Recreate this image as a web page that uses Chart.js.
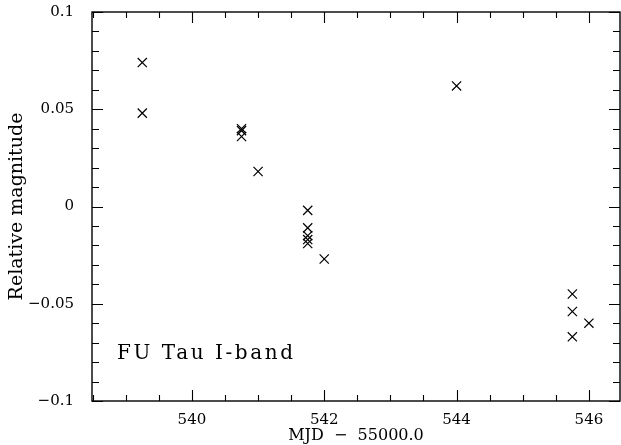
<!DOCTYPE html>
<html><head><meta charset="utf-8">
<script src="https://cdn.jsdelivr.net/npm/chart.js@4"></script>
<style>html,body{margin:0;padding:0;background:#fff;} #wrap{width:621px;height:445px;}</style>
</head><body><div id="wrap"><canvas id="c" width="621" height="445"></canvas></div>
<script>
// ---- data ----
const mjd    = [539.25, 539.25, 540.75, 540.75, 540.75, 541.0, 541.75, 541.75, 541.75, 541.75, 541.75, 542.0, 544.0, 545.75, 545.75, 545.75, 546.0];
const relMag = [0.074, 0.048, 0.040, 0.039, 0.036, 0.018, -0.002, -0.011, -0.015, -0.017, -0.019, -0.027, 0.062, -0.045, -0.054, -0.067, -0.060];
const xTickValues = [540, 542, 544, 546];
const xTickLabels = ['540', '542', '544', '546'];
const yTickValues = [-0.1, -0.05, 0, 0.05, 0.1];
const yTickLabels = ['\u22120.1', '\u22120.05', '0', '0.05', '0.1'];
const xTitle = 'MJD  \u2212  55000.0';
const yTitle = 'Relative magnitude';
const plotLabel = 'FU Tau I-band';

const FONT = '"DejaVu Serif", serif';
const points = mjd.map((x, i) => ({x: x, y: relMag[i]}));

function labelFor(values, labels, v) {
  for (let i = 0; i < values.length; i++) if (Math.abs(values[i] - v) < 1e-9) return labels[i];
  return '';
}

const framePlugin = {
  id: 'frame',
  afterDraw(chart) {
    const ctx = chart.ctx, a = chart.chartArea;
    const xs = chart.scales.x, ys = chart.scales.y;
    ctx.save();
    ctx.strokeStyle = '#000';
    ctx.lineWidth = 1.4;
    ctx.strokeRect(a.left, a.top, a.right - a.left, a.bottom - a.top);
    ctx.lineWidth = 1.1;
    ctx.beginPath();
    for (let k = Math.ceil(xs.min / 0.5); k * 0.5 <= xs.max; k++) {
      const v = k * 0.5;
      const px = Math.round(xs.getPixelForValue(v)) + 0.5;
      const major = xTickValues.some(t => Math.abs(t - v) < 1e-9);
      const len = major ? 11 : 6;
      ctx.moveTo(px, a.bottom); ctx.lineTo(px, a.bottom - len);
      ctx.moveTo(px, a.top); ctx.lineTo(px, a.top + len);
    }
    for (let k = Math.ceil(ys.min / 0.01 - 1e-6); k * 0.01 <= ys.max + 1e-9; k++) {
      const v = k * 0.01;
      const py = Math.round(ys.getPixelForValue(v)) + 0.5;
      const major = yTickValues.some(t => Math.abs(t - v) < 1e-9);
      const len = major ? 11 : 7;
      ctx.moveTo(a.left, py); ctx.lineTo(a.left + len, py);
      ctx.moveTo(a.right, py); ctx.lineTo(a.right - len, py);
    }
    ctx.stroke();
    ctx.fillStyle = '#000';
    ctx.font = '20px ' + FONT;
    ctx.textBaseline = 'alphabetic';
    ctx.textAlign = 'left';
    const target = 176;
    const w = ctx.measureText(plotLabel).width;
    ctx.letterSpacing = Math.max(0, (target - w) / (plotLabel.length - 1)).toFixed(2) + 'px';
    ctx.fillText(plotLabel, a.left + 25, a.bottom - 42);
    ctx.restore();
  }
};

new Chart(document.getElementById('c'), {
  type: 'scatter',
  data: {
    datasets: [{
      data: points,
      pointStyle: 'crossRot',
      pointRadius: 6.5,
      pointHoverRadius: 6.5,
      borderColor: '#000',
      backgroundColor: '#000',
      pointBorderWidth: 1.2,
      showLine: false
    }]
  },
  options: {
    responsive: false,
    animation: false,
    devicePixelRatio: 1,
    layout: {autoPadding: false, padding: {top: 12, right: 1, left: 0, bottom: 0}},
    plugins: {legend: {display: false}, tooltip: {enabled: false}},
    scales: {
      x: {
        type: 'linear',
        min: 538.49,
        max: 546.47,
        afterBuildTicks: s => { s.ticks = xTickValues.map(v => ({value: v})); },
        afterFit: s => { s.height = 44; s.paddingLeft = 0; s.paddingRight = 0; },
        grid: {display: false},
        border: {display: false},
        ticks: {
          autoSkip: false, maxRotation: 0, padding: 2, color: '#000',
          font: {family: FONT, size: 15},
          callback: v => labelFor(xTickValues, xTickLabels, v)
        },
        title: {display: true, text: xTitle, color: '#000', font: {family: FONT, size: 16}, padding: {top: 0, bottom: 0}}
      },
      y: {
        type: 'linear',
        min: -0.1,
        max: 0.1,
        afterBuildTicks: s => { s.ticks = yTickValues.map(v => ({value: v})); },
        afterFit: s => { s.width = 92; s.paddingTop = 0; s.paddingBottom = 0; },
        grid: {display: false},
        border: {display: false},
        ticks: {
          autoSkip: false, padding: 10, color: '#000',
          font: {family: FONT, size: 15},
          callback: v => labelFor(yTickValues, yTickLabels, v)
        },
        title: {display: true, text: yTitle, color: '#000', font: {family: FONT, size: 19}, padding: {top: 6, bottom: 0}}
      }
    }
  },
  plugins: [framePlugin]
});
</script>
</body></html>
